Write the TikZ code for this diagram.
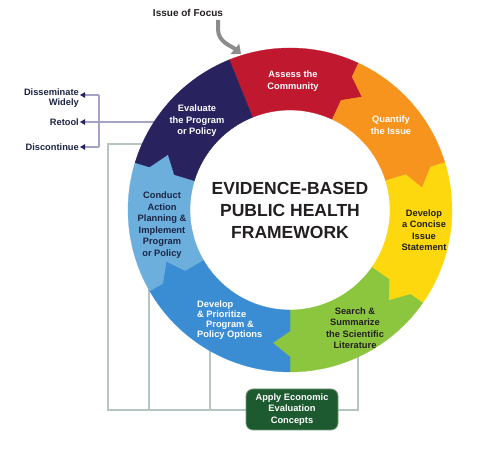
\documentclass[tikz,border=0pt]{standalone}
\usepackage{fontspec}
\setmainfont{Liberation Sans}
\usetikzlibrary{arrows.meta}
\definecolor{cred}{HTML}{C0182F}
\definecolor{corange}{HTML}{F7941E}
\definecolor{cyellow}{HTML}{FDD80F}
\definecolor{cgreen}{HTML}{8CC63F}
\definecolor{cblue}{HTML}{3B8DD3}
\definecolor{clblue}{HTML}{6CAFDD}
\definecolor{cnavy}{HTML}{28235F}
\definecolor{cdark}{HTML}{231F20}
\definecolor{cdnavy}{HTML}{1C2545}
\definecolor{cgreyline}{HTML}{B3C6C0}
\definecolor{cpurpline}{HTML}{A3A3C8}
\definecolor{carrow}{HTML}{8C8C8C}
\definecolor{cbox}{HTML}{1D5A30}
\definecolor{cboxb}{HTML}{6E9A78}
\newcommand\ringRo{162}
\newcommand\ringRi{100}
\newcommand\ringRa{147}
\newcommand\ringRm{134}
\newcommand\ringRb{121}
\newcommand\ringDd{7.5}
% segment from angle #2 (counter-clockwise side) to #3 (clockwise side), chevrons on both edges
\newcommand\ringseg[3]{%
  \filldraw[fill=#1,draw=#1,line width=0.3pt] (#2:\ringRo) arc[start angle=#2,end angle=#3,radius=\ringRo]
    -- (#3:\ringRa) -- ({#3-\ringDd}:\ringRm) -- (#3:\ringRb) -- (#3:\ringRi)
    arc[start angle=#3,end angle=#2,radius=\ringRi]
    -- (#2:\ringRb) -- ({#2-\ringDd}:\ringRm) -- (#2:\ringRa) -- cycle;}
\begin{document}
\begin{tikzpicture}[x=1pt,y=1pt,
  seglabel/.style={font=\fontsize{9.3}{11.5}\selectfont\bfseries,align=center,inner sep=0pt},
  sidelabel/.style={font=\fontsize{9.3}{10.5}\selectfont\bfseries,text=cdnavy,inner sep=1pt},
  greyline/.style={draw=cgreyline,line width=1.3pt},
  purpline/.style={draw=cpurpline,line width=1.1pt},
  navytip/.style={-{Triangle[length=5pt,width=5.5pt,color=cnavy]}}]
\useasboundingbox (0,0) rectangle (500,449);
\fill[white] (0,0) rectangle (500,449);
\coordinate (ctr) at (290,239);
% --- grey connector lines (drawn under the ring)
\coordinate (g1) at (146,305);
\coordinate (g2) at (108,305);
\coordinate (g3) at (108,39);
\coordinate (g4) at (358,39);
\coordinate (g5) at (358,96);
\draw[greyline] (g1) -- (g2) -- (g3) -- (g4) -- (g5);
\coordinate (g6) at (149,39);
\coordinate (g7) at (149,163);
\draw[greyline] (g6) -- (g7);
\coordinate (g8) at (210,39);
\coordinate (g9) at (210,102);
\draw[greyline] (g8) -- (g9);
% --- left outcome labels
\node[sidelabel,anchor=east,align=right] (dissem) at (80,351) {Disseminate\\Widely};
\node[sidelabel,anchor=east] (retool) at (80,327) {Retool};
\node[sidelabel,anchor=east] (discont) at (80,302) {Discontinue};
\coordinate (retoolR) at (158,327);
\coordinate (brtop) at (99,354);
\coordinate (brbot) at (99,302);
\draw[purpline,navytip] (retoolR) -- (retool.east);
\draw[purpline] (brtop) -- (brbot);
\draw[purpline,navytip] (brtop) -- (dissem.east |- brtop);
\draw[purpline,navytip] (brbot) -- (discont.east);
% --- ring
\begin{scope}[shift={(ctr)}]
  \filldraw[fill=cred,draw=cred,line width=0.3pt] (112:\ringRo) arc[start angle=112,end angle=65,radius=\ringRo]
    -- (65:\ringRa) -- ({65-\ringDd}:\ringRm) -- (65:\ringRb) -- (65:\ringRi)
    arc[start angle=65,end angle=112,radius=\ringRi] -- cycle;
  \ringseg{corange}{65}{17}
  \ringseg{cyellow}{17}{-35}
  \ringseg{cgreen}{-35}{-90}
  \ringseg{cblue}{-90}{-150}
  \ringseg{clblue}{210}{163}
  \filldraw[fill=cnavy,draw=cnavy,line width=0.3pt] (163:\ringRo) arc[start angle=163,end angle=112,radius=\ringRo]
    -- (112:\ringRi) arc[start angle=112,end angle=163,radius=\ringRi]
    -- (163:\ringRb) -- ({163-\ringDd}:\ringRm) -- (163:\ringRa) -- cycle;
\end{scope}
% --- centre title
\node[font=\fontsize{17.5}{22}\selectfont\bfseries,align=center,text=cdark,inner sep=0pt] (title) at (ctr) {EVIDENCE-BASED\\PUBLIC HEALTH\\FRAMEWORK};
% --- segment labels
\node[seglabel,text=white] (assess) at (293,368) {Assess the\\Community};
\node[seglabel,text=white] (quant) at (391,324) {Quantify\\the Issue};
\node[seglabel,text=cdark] (concise) at (424,219) {Develop\\a Concise\\Issue\\Statement};
\node[seglabel,text=cdark] (search) at (355,121) {Search \&\\Summarize\\the Scientific\\Literature};
\node[seglabel,text=white,align=left,font=\fontsize{9.3}{10.2}\selectfont\bfseries,anchor=west] (prior) at (197,129) {Develop\\\& Prioritize\\\hspace*{9pt}Program \&\\Policy Options};
\node[seglabel,text=cdnavy] (conduct) at (162,224) {Conduct\\Action\\Planning \&\\Implement\\Program\\or Policy};
\node[seglabel,text=white] (evaluate) at (197,328) {Evaluate\\the Program\\or Policy};
% --- issue of focus
\node[font=\fontsize{10}{12}\selectfont\bfseries,text=cdark,inner sep=1pt] (focus) at (188,436) {Issue of Focus};
\coordinate (fa) at (218,429);
\coordinate (fb) at (241,395);
\draw[line width=4pt,color=carrow,-{Triangle[length=8pt,width=13pt]}] (fa) -- ++(0,-9) to[out=-90,in=140] (fb);
% --- economic evaluation box
\node[draw=cboxb,fill=cbox,rounded corners=7pt,line width=0.8pt,minimum width=92pt,minimum height=41pt,
      text=white,align=center,inner sep=2pt,font=\fontsize{9.3}{11.3}\selectfont\bfseries] (econ) at (292,39.5)
      {Apply Economic\\Evaluation\\Concepts};
\end{tikzpicture}
\end{document}
